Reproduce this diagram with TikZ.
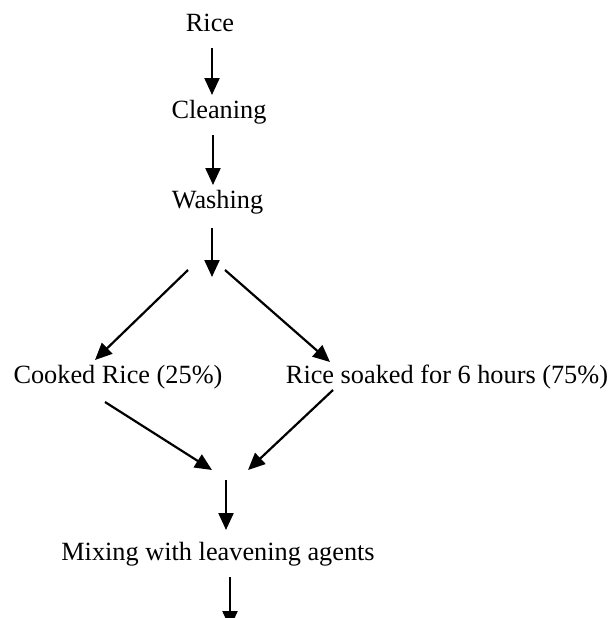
\documentclass[tikz,border=0pt]{standalone}
\usepackage{fontspec}
\setmainfont{Liberation Serif}
\usetikzlibrary{arrows.meta}
\begin{document}
\begin{tikzpicture}[x=1pt,y=-1pt,
  lbl/.style={anchor=base,inner sep=0pt,font=\fontsize{26.3}{30}\selectfont},
  arr/.style={line width=2.2pt,-{Triangle[length=17pt,width=15pt]}}]
\useasboundingbox (0,0) rectangle (613,618);
\clip (0,0) rectangle (613,618);
\node[lbl] (rice) at (210,32) {Rice};
\node[lbl] (clean) at (219,118) {Cleaning};
\node[lbl] (wash) at (217.5,208) {Washing};
\node[lbl] (cooked) at (118,383) {Cooked Rice (25\%)};
\node[lbl] (soaked) at (447,383) {Rice soaked for 6 hours (75\%)};
\node[lbl] (mix) at (218,560) {Mixing with leavening agents};
\coordinate (a1s) at (212,48);  \coordinate (a1e) at (212,95);
\coordinate (a2s) at (213,135); \coordinate (a2e) at (213,185);
\coordinate (a3s) at (212,228); \coordinate (a3e) at (212,277);
\coordinate (d1s) at (188,270); \coordinate (d1e) at (95,360);
\coordinate (d2s) at (225,270); \coordinate (d2e) at (330,362);
\coordinate (d3s) at (105,402); \coordinate (d3e) at (212,470);
\coordinate (d4s) at (333,390); \coordinate (d4e) at (248,470);
\coordinate (a4s) at (226,480); \coordinate (a4e) at (226,530);
\coordinate (a5s) at (230,577); \coordinate (a5e) at (230,628);
\draw[arr] (a1s) -- (a1e);
\draw[arr] (a2s) -- (a2e);
\draw[arr] (a3s) -- (a3e);
\draw[arr] (d1s) -- (d1e);
\draw[arr] (d2s) -- (d2e);
\draw[arr] (d3s) -- (d3e);
\draw[arr] (d4s) -- (d4e);
\draw[arr] (a4s) -- (a4e);
\draw[arr] (a5s) -- (a5e);
\end{tikzpicture}
\end{document}
